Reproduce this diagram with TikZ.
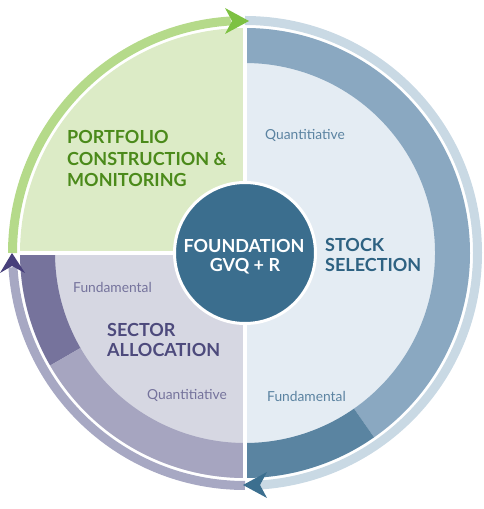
\documentclass[tikz,border=0pt]{standalone}
\usepackage{fontspec}
\setmainfont{Lato}
\definecolor{gfill}{HTML}{DCEBC6}
\definecolor{gtext}{HTML}{4B8A1A}
\definecolor{gring}{HTML}{B5DA8A}
\definecolor{garrow}{HTML}{7DC142}
\definecolor{bfill}{HTML}{E4ECF3}
\definecolor{bband}{HTML}{8AA8C1}
\definecolor{bbanddark}{HTML}{5A84A1}
\definecolor{btext}{HTML}{2E6282}
\definecolor{bsmall}{HTML}{5B83A1}
\definecolor{bring}{HTML}{C9D9E4}
\definecolor{barrow}{HTML}{3C6F8F}
\definecolor{pfill}{HTML}{D6D7E2}
\definecolor{pband}{HTML}{A6A5C0}
\definecolor{pbanddark}{HTML}{76739C}
\definecolor{ptext}{HTML}{4D4A7C}
\definecolor{psmall}{HTML}{75739C}
\definecolor{pring}{HTML}{A7A8C3}
\definecolor{parrow}{HTML}{473F7B}
\definecolor{cblue}{HTML}{3B6E8E}
\tikzset{
  bigtext/.style={font=\bfseries\fontsize{18}{20}\selectfont, inner sep=0pt},
  smalltext/.style={font=\fontsize{13.8}{16}\selectfont, inner sep=0pt},
  ringline/.style={line width=9pt},
  sepline/.style={draw=white, line width=4pt},
}
\begin{document}
\begin{tikzpicture}[x=1pt,y=1pt]
\useasboundingbox (0,0) rectangle (484,509);
\coordinate (C) at (245,256);
% green quadrant
\fill[gfill] (C) -- ([shift={(180:225)}]C) arc[start angle=180,end angle=90,radius=225] -- cycle;
% right half
\fill[bfill] (C) -- ([shift={(90:225)}]C) arc[start angle=90,end angle=-90,radius=225] -- cycle;
\fill[bband] ([shift={(90:225)}]C) arc[start angle=90,end angle=-55,radius=225]
  -- ([shift={(-55:190)}]C) arc[start angle=-55,end angle=90,radius=190] -- cycle;
\fill[bbanddark] ([shift={(-55:225)}]C) arc[start angle=-55,end angle=-90,radius=225]
  -- ([shift={(-90:190)}]C) arc[start angle=-90,end angle=-55,radius=190] -- cycle;
% bottom-left quadrant
\fill[pfill] (C) -- ([shift={(180:225)}]C) arc[start angle=180,end angle=270,radius=225] -- cycle;
\fill[pbanddark] ([shift={(180:225)}]C) arc[start angle=180,end angle=210,radius=225]
  -- ([shift={(210:190)}]C) arc[start angle=210,end angle=180,radius=190] -- cycle;
\fill[pband] ([shift={(210:225)}]C) arc[start angle=210,end angle=270,radius=225]
  -- ([shift={(270:190)}]C) arc[start angle=270,end angle=210,radius=190] -- cycle;
% separators
\draw[sepline] ([shift={(90:227)}]C) -- ([shift={(-90:227)}]C);
\draw[sepline] ([shift={(180:227)}]C) -- (C);
% outer rings
\draw[ringline, gring] ([shift={(180:232.5)}]C) arc[start angle=180,end angle=93.5,radius=232.5];
\draw[ringline, bring] ([shift={(90:232.5)}]C) arc[start angle=90,end angle=-86.5,radius=232.5];
\draw[ringline, pring] ([shift={(270:232.5)}]C) arc[start angle=270,end angle=183.5,radius=232.5];
% arrowheads
\fill[garrow] (249,488) -- (225,501) -- (232,488) -- (225,475) -- cycle;
\fill[barrow] (243,24) -- (267,37) -- (260,24) -- (267,11) -- cycle;
\fill[parrow] (12,256) -- (0,236) -- (12,243) -- (25,236) -- cycle;
% centre
\node[circle, fill=cblue, draw=white, line width=3pt, minimum size=141pt, inner sep=0pt] (found) at (C) {};
\node[bigtext, text=white, anchor=base] (f1) at (244,256) {FOUNDATION};
\node[bigtext, text=white, anchor=base] (f2) at (245,237) {GVQ + R};
% labels
\node[bigtext, text=gtext, anchor=base west] (pc1) at (67,365) {PORTFOLIO};
\node[bigtext, text=gtext, anchor=base west] (pc2) at (67,343) {CONSTRUCTION \&};
\node[bigtext, text=gtext, anchor=base west] (pc3) at (67,322) {MONITORING};
\node[bigtext, text=btext, anchor=base west] (ss1) at (325,257) {STOCK};
\node[bigtext, text=btext, anchor=base west] (ss2) at (325,237) {SELECTION};
\node[bigtext, text=ptext, anchor=base west] (sa1) at (107,172) {SECTOR};
\node[bigtext, text=ptext, anchor=base west] (sa2) at (107,152) {ALLOCATION};
\node[smalltext, text=bsmall, anchor=base west] (bq) at (265,369) {Quantitiative};
\node[smalltext, text=bsmall, anchor=base west] (bf) at (267,107) {Fundamental};
\node[smalltext, text=psmall, anchor=base west] (pf) at (73,216) {Fundamental};
\node[smalltext, text=psmall, anchor=base west] (pq) at (147,109) {Quantitiative};
\end{tikzpicture}
\end{document}
